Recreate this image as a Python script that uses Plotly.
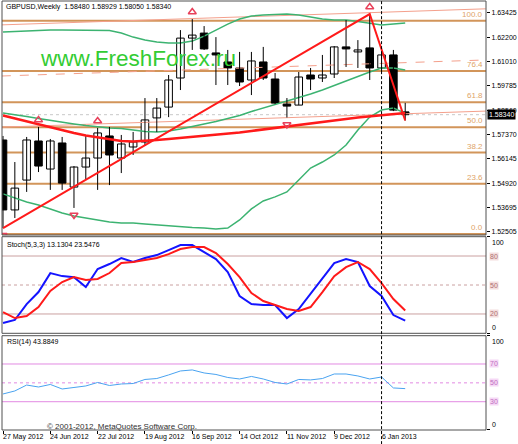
import plotly.graph_objects as go

# weekly bars, 27 May 2012 .. 20 Jan 2013 (index 0..34)
bars = list(range(35))
tick_idx = [0, 4, 8, 12, 16, 20, 24, 28, 32]
tick_labels = ['27 May 2012', '24 Jun 2012', '22 Jul 2012', '19 Aug 2012', '16 Sep 2012',
               '14 Oct 2012', '11 Nov 2012', '9 Dec 2012', '6 Jan 2013']

opens = [1.5708, 1.5359, 1.5508, 1.5703, 1.5563, 1.5693, 1.5473, 1.5573, 1.5618, 1.5728,
         1.5618, 1.5673, 1.5698, 1.5818, 1.5872, 1.6017, 1.6216, 1.6241, 1.6142, 1.6097,
         1.6067, 1.6007, 1.6097, 1.6012, 1.5887, 1.5882, 1.6032, 1.6017, 1.6037, 1.6172,
         1.6147, 1.6167, 1.6067, 1.6132, 1.58480]
highs = [1.5728, 1.5598, 1.5723, 1.5773, 1.5713, 1.5723, 1.5578, 1.5728, 1.5768, 1.5773,
         1.5733, 1.5748, 1.5917, 1.5917, 1.6032, 1.6256, 1.6311, 1.6276, 1.6221, 1.6157,
         1.6147, 1.6147, 1.6172, 1.6042, 1.5917, 1.6047, 1.6067, 1.6132, 1.6176, 1.6306,
         1.6206, 1.6336, 1.6147, 1.6157, 1.58929]
lows = [1.5268, 1.5319, 1.5449, 1.5548, 1.5459, 1.5459, 1.5369, 1.5508, 1.5459, 1.5483,
        1.5543, 1.5633, 1.5678, 1.5748, 1.5822, 1.5957, 1.6157, 1.6157, 1.5982, 1.5982,
        1.5977, 1.5932, 1.6007, 1.5887, 1.5820, 1.5882, 1.5957, 1.5997, 1.6017, 1.6072,
        1.6067, 1.6007, 1.6047, 1.5852, 1.58050]
closes = [1.5359, 1.5468, 1.5708, 1.5578, 1.5703, 1.5493, 1.5573, 1.5618, 1.5743, 1.5633,
          1.5688, 1.5698, 1.5808, 1.5867, 1.6007, 1.6216, 1.6231, 1.6162, 1.6132, 1.6067,
          1.5997, 1.6102, 1.6017, 1.5892, 1.5877, 1.6022, 1.6012, 1.6032, 1.6172, 1.6162,
          1.6157, 1.6067, 1.6132, 1.5857, 1.58340]

bb_upper = [1.6246, 1.6249, 1.6251, 1.6254, 1.6256, 1.6256, 1.6256, 1.6256, 1.6256, 1.6254,
            1.6241, 1.6221, 1.6206, 1.6196, 1.6191, 1.6191, 1.6201, 1.6226, 1.6256, 1.6286,
            1.6311, 1.6326, 1.6331, 1.6334, 1.6336, 1.6331, 1.6321, 1.6311, 1.6306, 1.6306,
            1.6299, 1.6289, 1.6281, 1.6286, 1.6291]
bb_mid = [1.5842, 1.5835, 1.5825, 1.5815, 1.5805, 1.5795, 1.5788, 1.5780, 1.5773, 1.5768,
          1.5765, 1.5758, 1.5750, 1.5748, 1.5753, 1.5763, 1.5775, 1.5788, 1.5800, 1.5815,
          1.5830, 1.5850, 1.5867, 1.5885, 1.5900, 1.5917, 1.5937, 1.5957, 1.5980, 1.6002,
          1.6027, 1.6047, 1.6067, 1.6067, 1.6057]
bb_lower = [1.5439, 1.5419, 1.5399, 1.5384, 1.5364, 1.5344, 1.5329, 1.5319, 1.5309, 1.5299,
            1.5294, 1.5294, 1.5289, 1.5284, 1.5279, 1.5274, 1.5271, 1.5269, 1.5264, 1.5269,
            1.5309, 1.5364, 1.5404, 1.5424, 1.5449, 1.5508, 1.5568, 1.5598, 1.5633, 1.5683,
            1.5758, 1.5822, 1.5857, 1.5867, 1.5842]
ma_slow = [1.5830, 1.5815, 1.5800, 1.5785, 1.5770, 1.5758, 1.5743, 1.5730, 1.5720, 1.5710,
           1.5703, 1.5700, 1.5703, 1.5708, 1.5713, 1.5718, 1.5723, 1.5728, 1.5733, 1.5740,
           1.5745, 1.5753, 1.5760, 1.5768, 1.5775, 1.5783, 1.5790, 1.5798, 1.5805, 1.5812,
           1.5820, 1.5825, 1.5830, 1.5837, 1.5842]

zz_x = [0, 31, 34]
zz_y = [1.5268, 1.6336, 1.5805]

fract_up = [3, 8, 16, 31]
fract_dn = [0, 6, 24]

# std-dev channel (centre line end points + half width)
ch_x = [-0.1, 40.8]
ch_mid = [1.6027, 1.6107]
ch_half = 0.0255

fib_lo, fib_hi = 1.5239, 1.6303
fib_levels = [0.0, 23.6, 38.2, 50.0, 61.8, 76.4, 100.0]

price_ticks = [1.63425, 1.62200, 1.61010, 1.59785, 1.58560, 1.57370, 1.56145, 1.54920, 1.53695, 1.52505]
last_price = 1.58340

stoch_main = [10.7, 13.8, 30.3, 42.7, 62.3, 59.2, 58.1, 47.9, 66.5, 71.7, 77.9, 73.8, 77.9, 81.0,
              86.1, 91.3, 91.3, 84.1, 76.8, 63.4, 38.6, 30.3, 29.3, 29.3, 15.8, 25.1, 40.6, 56.2,
              72.7, 76.8, 73.7, 48.9, 38.6, 18.9, 13.13]
stoch_signal = [22.0, 15.8, 17.9, 27.2, 43.8, 53.1, 58.2, 55.1, 56.2, 62.4, 72.7, 73.8, 75.8, 77.9,
                82.0, 87.2, 89.3, 89.3, 83.1, 71.7, 58.2, 41.7, 33.4, 29.3, 25.1, 23.1, 27.2, 42.7,
                59.2, 68.5, 73.8, 66.5, 52.0, 35.5, 23.55]
rsi = [38.2, 41.4, 47.7, 45.6, 48.3, 43.5, 45.1, 46.7, 50.4, 47.2, 48.8, 49.3, 53.6, 54.6, 58.4,
       62.6, 63.7, 60.5, 58.9, 55.7, 54.1, 56.8, 54.1, 50.4, 48.8, 53.6, 53.1, 54.6, 59.4, 59.4,
       57.3, 54.1, 56.2, 44.6, 43.88]

stoch_levels = [80, 50, 20]
rsi_levels = [70, 50, 30]

FONT = 'Liberation Sans'
FIB_COLOR = '#d2955a'
CH_COLOR = '#f4a08c'

fig = go.Figure()

# std-dev channel
for off, dash in [(ch_half, 'solid'), (0, 'dash'), (-ch_half, 'solid')]:
    fig.add_trace(go.Scatter(x=ch_x, y=[m + off for m in ch_mid], mode='lines',
                             line=dict(color=CH_COLOR, width=1, dash=dash),
                             hoverinfo='skip', yaxis='y'))

# bollinger bands
for band in (bb_upper, bb_mid, bb_lower):
    fig.add_trace(go.Scatter(x=bars, y=band, mode='lines',
                             line=dict(color='#3cb371', width=1.5), hoverinfo='skip'))

# candles: wicks as one broken line, bodies as floating bars
wick_x, wick_y = [], []
for i, h, l in zip(bars, highs, lows):
    wick_x += [i, i, None]
    wick_y += [l, h, None]
fig.add_trace(go.Scatter(x=wick_x, y=wick_y, mode='lines',
                         line=dict(color='black', width=1), hoverinfo='skip'))
fig.add_trace(go.Bar(x=bars,
                     y=[max(abs(c - o), 0.00012) for o, c in zip(opens, closes)],
                     base=[min(o, c) for o, c in zip(opens, closes)],
                     width=0.64,
                     marker=dict(color=['white' if c >= o else 'black' for o, c in zip(opens, closes)],
                                 line=dict(color='black', width=1)),
                     hoverinfo='skip'))

fig.add_trace(go.Scatter(x=bars, y=ma_slow, mode='lines',
                         line=dict(color='#ff1a1a', width=2.5), hoverinfo='skip'))
fig.add_trace(go.Scatter(x=zz_x, y=zz_y, mode='lines',
                         line=dict(color='#ff1a1a', width=2), hoverinfo='skip'))

# fractals
fig.add_trace(go.Scatter(x=fract_up, y=[highs[i] + 0.0035 for i in fract_up], mode='markers',
                         marker=dict(symbol='triangle-up-open', size=7, color='#e8405a',
                                     line=dict(width=1.5, color='#e8405a')), hoverinfo='skip'))
fig.add_trace(go.Scatter(x=fract_dn, y=[lows[i] - 0.0035 for i in fract_dn], mode='markers',
                         marker=dict(symbol='triangle-down-open', size=7, color='#e8405a',
                                     line=dict(width=1.5, color='#e8405a')), hoverinfo='skip'))

# stochastic
fig.add_trace(go.Scatter(x=bars, y=stoch_main, yaxis='y2', mode='lines',
                         line=dict(color='#1414ff', width=2), hoverinfo='skip'))
fig.add_trace(go.Scatter(x=bars, y=stoch_signal, yaxis='y2', mode='lines',
                         line=dict(color='#ff1a1a', width=2), hoverinfo='skip'))

# rsi
fig.add_trace(go.Scatter(x=bars, y=rsi, yaxis='y3', mode='lines',
                         line=dict(color='#4aa3f0', width=1), hoverinfo='skip'))

shapes = []
annotations = []

# fibo levels
fib_prices = [fib_lo + (fib_hi - fib_lo) * lv / 100 for lv in fib_levels]
for lv, p in zip(fib_levels, fib_prices):
    shapes.append(dict(type='line', xref='paper', yref='y', x0=0, x1=1, y0=p, y1=p,
                       line=dict(color=FIB_COLOR, width=2), layer='below'))
    annotations.append(dict(text=f'{lv:.1f}', xref='paper', yref='y', x=0.997, y=p,
                            xanchor='right', yanchor='bottom', showarrow=False,
                            font=dict(family=FONT, size=8, color='#e0a468')))

# bid line
shapes.append(dict(type='line', xref='paper', yref='y', x0=0, x1=1, y0=last_price, y1=last_price,
                   line=dict(color='#c8c8c8', width=1, dash='dot'), layer='below'))

for lv in stoch_levels:
    shapes.append(dict(type='line', xref='paper', yref='y2', x0=0, x1=1, y0=lv, y1=lv,
                       line=dict(color='#caa0a0', width=1, dash='dot' if lv == 50 else 'solid'),
                       layer='below'))
    annotations.append(dict(text=str(lv), xref='paper', yref='y2', x=1, y=lv, xanchor='left',
                            xshift=3, showarrow=False, bgcolor='#f4dede', borderpad=0,
                            font=dict(family=FONT, size=7, color='#b07070')))
for lv in rsi_levels:
    shapes.append(dict(type='line', xref='paper', yref='y3', x0=0, x1=1, y0=lv, y1=lv,
                       line=dict(color='#e28ae2', width=1, dash='dot' if lv == 50 else 'solid'),
                       layer='below'))
    annotations.append(dict(text=str(lv), xref='paper', yref='y3', x=1, y=lv, xanchor='left',
                            xshift=3, showarrow=False, bgcolor='#f6d8f6', borderpad=0,
                            font=dict(family=FONT, size=7, color='#c070c0')))

for yr in ('y2', 'y3'):
    annotations.append(dict(text='100', xref='paper', yref=yr, x=1, y=100, xanchor='left',
                            yanchor='top', xshift=4, showarrow=False,
                            font=dict(family=FONT, size=7, color='black')))
    annotations.append(dict(text='0', xref='paper', yref=yr, x=1, y=0, xanchor='left',
                            yanchor='bottom', xshift=4, showarrow=False,
                            font=dict(family=FONT, size=7, color='black')))

# panel borders
for d in ([0.4545, 1.0], [0.2254, 0.4506], [0.0, 0.2198]):
    shapes.append(dict(type='rect', xref='paper', yref='paper', x0=0, x1=1, y0=d[0], y1=d[1],
                       line=dict(color='#505050', width=1)))

# dashed vertical line at 6 Jan 2013
shapes.append(dict(type='line', xref='x', yref='paper', x0=32, x1=32, y0=-0.033, y1=1,
                   line=dict(color='black', width=1, dash='3px,2px')))

# x labels
for i, lab in zip(tick_idx, tick_labels):
    annotations.append(dict(text=lab, xref='x', yref='paper', x=i, y=-0.016, xanchor='left',
                            yanchor='middle', xshift=-2, showarrow=False,
                            font=dict(family=FONT, size=7, color='black')))

annotations += [
    dict(text=f'{last_price:.5f}', xref='paper', yref='y', x=1, y=last_price, xanchor='left',
         xshift=1, showarrow=False, bgcolor='black', borderpad=1,
         font=dict(family=FONT, size=7, color='white')),
    dict(text='GBPUSD,Weekly  1.58480 1.58929 1.58050 1.58340', xref='paper', yref='paper',
         x=0.005, y=0.986, xanchor='left', yanchor='middle', showarrow=False,
         font=dict(family=FONT, size=7, color='black')),
    dict(text='Stoch(5,3,3) 13.1304 23.5476', xref='paper', yref='paper', x=0.006, y=0.432,
         xanchor='left', yanchor='middle', showarrow=False,
         font=dict(family=FONT, size=7, color='black')),
    dict(text='RSI(14) 43.8849', xref='paper', yref='paper', x=0.006, y=0.205,
         xanchor='left', yanchor='middle', showarrow=False,
         font=dict(family=FONT, size=7, color='black')),
    dict(text='© 2001-2012, MetaQuotes Software Corp.', xref='paper', yref='paper', x=0.248,
         y=0.0093, xanchor='center', yanchor='middle', showarrow=False,
         font=dict(family=FONT, size=8, color='#303030')),
    dict(text='www.FreshForex.ru', xref='paper', yref='paper', x=0.282, y=0.867,
         xanchor='center', yanchor='middle', showarrow=False,
         font=dict(family=FONT, size=22.5, color='#33cc33')),
]

fig.update_layout(
    width=518, height=444,
    margin=dict(l=2, r=32, t=1, b=14),
    paper_bgcolor='white', plot_bgcolor='white',
    showlegend=False,
    barmode='overlay',
    font=dict(family=FONT, size=7, color='black'),
    xaxis=dict(range=[-0.085, 40.83], anchor='y3', showgrid=False, zeroline=False,
               tickvals=tick_idx, showticklabels=False, ticks='outside', ticklen=3,
               tickcolor='black'),
    yaxis=dict(domain=[0.4545, 1.0], range=[1.5234, 1.6401], side='right', anchor='x',
               tickvals=price_ticks, ticktext=[f'{p:.5f}' for p in price_ticks],
               ticks='outside', ticklen=3, tickcolor='black', showgrid=False, zeroline=False,
               tickfont=dict(family=FONT, size=7, color='black')),
    yaxis2=dict(domain=[0.2254, 0.4506], range=[0, 100], side='right', anchor='x',
                showticklabels=False, showgrid=False, zeroline=False,
                tickvals=[0, 100], ticks='outside', ticklen=3, tickcolor='black'),
    yaxis3=dict(domain=[0.0, 0.2198], range=[0, 100], side='right', anchor='x',
                showticklabels=False, showgrid=False, zeroline=False,
                tickvals=[0, 100], ticks='outside', ticklen=3, tickcolor='black'),
    shapes=shapes,
    annotations=annotations,
)

# page body has a default 8px margin; drop it so the chart sits at the window corner
fig.write_html("out.html", config={'displayModeBar': False},
               post_script="document.body.style.margin='0';")
